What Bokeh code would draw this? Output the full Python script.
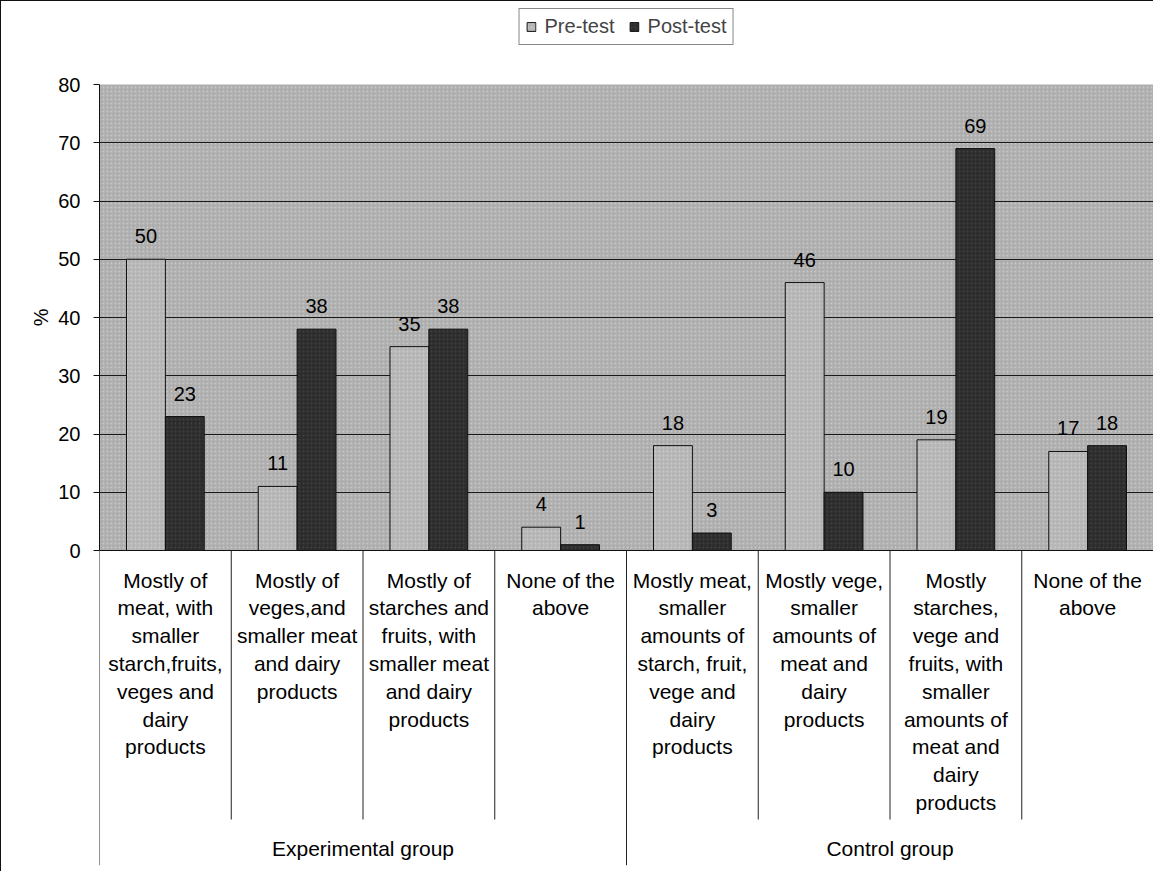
from bokeh.plotting import figure
from bokeh.models import Range1d, FixedTicker, Legend, LegendItem, Title
from bokeh.core.properties import value
from bokeh.embed import file_html
from bokeh.resources import INLINE

# ---------------- data ----------------
categories = [
    "Mostly of\nmeat, with\nsmaller\nstarch,fruits,\nveges and\ndairy\nproducts",
    "Mostly of\nveges,and\nsmaller meat\nand dairy\nproducts",
    "Mostly of\nstarches and\nfruits, with\nsmaller meat\nand dairy\nproducts",
    "None of the\nabove",
    "Mostly meat,\nsmaller\namounts of\nstarch, fruit,\nvege and\ndairy\nproducts",
    "Mostly vege,\nsmaller\namounts of\nmeat and\ndairy\nproducts",
    "Mostly\nstarches,\nvege and\nfruits, with\nsmaller\namounts of\nmeat and\ndairy\nproducts",
    "None of the\nabove",
]
groups = ["Experimental group", "Control group"]
group_sizes = [4, 4]
pre_test = [50, 11, 35, 4, 18, 46, 19, 17]
post_test = [23, 38, 38, 1, 3, 10, 69, 18]
series_names = ["Pre-test", "Post-test"]
y_ticks = [0, 10, 20, 30, 40, 50, 60, 70, 80]
y_axis_title = "%"

# ---------------- layout constants ----------------
FONT = "Liberation Sans"
W, H = 1153, 871
MB_LEFT, MB_RIGHT, MB_TOP, MB_BOTTOM = 98, 1, 0, 7
frame_h = H - MB_TOP - MB_BOTTOM
zero_px = 549.0          # pixel (from frame top) of value 0
ppu = 5.825              # pixels per % unit
y_top = zero_px / ppu
y_bot = -(frame_h - zero_px) / ppu
n = len(categories)
bar_w = 0.295

def px(d):
    return d / ppu

p = figure(width=W, height=H, x_range=Range1d(0, n), y_range=Range1d(y_bot, y_top),
           output_backend="svg", toolbar_location=None, x_axis_location=None,
           min_border_left=MB_LEFT, min_border_right=MB_RIGHT,
           min_border_top=MB_TOP, min_border_bottom=MB_BOTTOM,
           outline_line_color=None, background_fill_color="white",
           border_fill_color="white")
p.styles = {"border-left": "1px solid #111", "border-top": "1px solid #111"}

# textured plot area background
bg = p.quad(left=[0], right=[n], bottom=[y_ticks[0]], top=[y_ticks[-1]],
            fill_color="#adadad", line_color=None,
            hatch_pattern=".", hatch_color="#dcdcdc", hatch_scale=4,
            hatch_alpha=0.6, hatch_weight=1)
bg.level = "image"

# y axis
yax = p.yaxis[0]
yax.ticker = FixedTicker(ticks=y_ticks)
yax.bounds = (y_ticks[0], y_ticks[-1])
yax.minor_tick_line_color = None
yax.major_tick_in = 0
yax.major_tick_out = 6
yax.major_tick_line_color = "#111"
yax.axis_line_color = "#111"
yax.major_label_standoff = 13
yax.major_label_text_font = FONT
yax.major_label_text_font_size = "20px"
yax.major_label_text_color = "black"

# y axis title, placed beside the 0-80 part of the axis
zero_to_top = zero_px - (y_ticks[-1] - y_ticks[0]) * ppu   # px from frame top to 80
title_centre = zero_to_top + (y_ticks[-1] - y_ticks[0]) * ppu / 2
p.add_layout(Title(text=y_axis_title, align="right", offset=title_centre - 9,
                   text_font=FONT, text_font_size="20px", text_font_style="normal",
                   text_color="black", standoff=8), "left")

p.xgrid.visible = False
p.ygrid.ticker = FixedTicker(ticks=y_ticks[1:-1])
p.ygrid.grid_line_color = "#1a1a1a"
p.ygrid.grid_line_width = 1

# bars
xs = [i + 0.5 for i in range(n)]
r_pre = p.vbar(x=[x - bar_w / 2 for x in xs], top=pre_test, bottom=0, width=bar_w,
               fill_color="#b5b5b5", line_color="#111", line_width=1,
               hatch_pattern=".", hatch_color="#e2e2e2", hatch_scale=4, hatch_alpha=0.5)
r_post = p.vbar(x=[x + bar_w / 2 for x in xs], top=post_test, bottom=0, width=bar_w,
                fill_color="#2c2c2c", line_color="#111", line_width=1,
                hatch_pattern=".", hatch_color="#555555", hatch_scale=4, hatch_alpha=0.5)

# data labels
p.text(x=[x - bar_w / 2 for x in xs], y=pre_test, text=[str(v) for v in pre_test],
       y_offset=-23, text_align="center", text_baseline="middle",
       text_font=value(FONT), text_font_size="20px", text_color="black")
p.text(x=[x + bar_w / 2 for x in xs], y=post_test, text=[str(v) for v in post_test],
       y_offset=-23, text_align="center", text_baseline="middle",
       text_font=value(FONT), text_font_size="20px", text_color="black")

# x axis line at 0
p.segment(x0=[0], y0=[0], x1=[n], y1=[0], line_color="#111", line_width=1)

# category dividers
bounds_outer = [0]
for s in group_sizes:
    bounds_outer.append(bounds_outer[-1] + s)
inner = [i for i in range(1, n) if i not in bounds_outer]
p.segment(x0=inner, y0=[0] * len(inner), x1=inner, y1=[-px(269)] * len(inner),
          line_color="#222", line_width=1)
p.segment(x0=bounds_outer, y0=[0] * len(bounds_outer), x1=bounds_outer,
          y1=[y_bot] * len(bounds_outer), line_color="#222", line_width=1)

# category labels
p.text(x=xs, y=[-px(18)] * n, text=categories, text_align="center", text_baseline="top",
       text_line_height=1.21, text_font=value(FONT), text_font_size="21px",
       text_color="black")

# group labels
gx = [(bounds_outer[i] + bounds_outer[i + 1]) / 2 for i in range(len(groups))]
p.text(x=gx, y=[-px(298)] * len(groups), text=groups, text_align="center",
       text_baseline="middle", text_font=value(FONT), text_font_size="21px",
       text_color="black")

# legend
legend = Legend(items=[LegendItem(label=series_names[0], renderers=[r_pre]),
                       LegendItem(label=series_names[1], renderers=[r_post])],
                orientation="horizontal", location="top_center",
                glyph_width=11, glyph_height=11, label_standoff=8, spacing=14,
                padding=6, margin=7, label_height=21,
                label_text_font=FONT, label_text_font_size="20px",
                border_line_color="#111", border_line_width=1,
                background_fill_color="white", background_fill_alpha=1)
p.add_layout(legend)

open("out.html", "w").write(file_html(p, INLINE))
